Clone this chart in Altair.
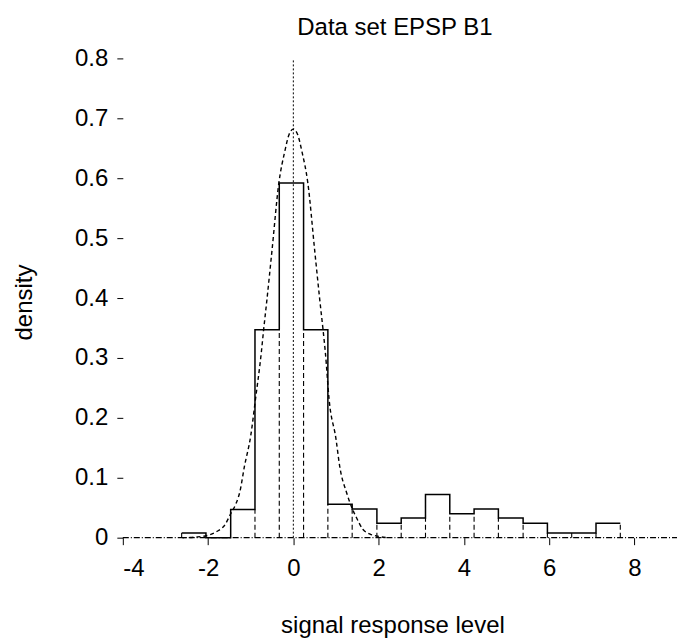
import altair as alt
import pandas as pd

# ---- data ----
bin_edges = [-2.62, -2.05, -1.47, -0.90, -0.33, 0.24, 0.81, 1.38, 1.96, 2.53,
             3.10, 3.67, 4.24, 4.81, 5.39, 5.96, 6.53, 7.10, 7.67]
bin_heights = [0.008, 0.0, 0.047, 0.347, 0.592, 0.347, 0.056, 0.048, 0.024,
               0.033, 0.072, 0.040, 0.048, 0.033, 0.024, 0.008, 0.008, 0.024]

curve_x = [-2.6, -2.3, -2.0, -1.8, -1.6, -1.47, -1.35, -1.25, -1.15, -1.0, -0.89,
           -0.75, -0.70, -0.62, -0.5, -0.34, -0.2, -0.1, 0.0, 0.1, 0.2, 0.34, 0.5,
           0.62, 0.70, 0.75, 0.84, 1.0, 1.09, 1.25, 1.35, 1.47, 1.63, 1.8, 1.94, 2.2]
curve_y = [0.0, 0.001, 0.004, 0.010, 0.022, 0.040, 0.056, 0.078, 0.118, 0.170, 0.230,
           0.310, 0.345, 0.397, 0.480, 0.592, 0.645, 0.673, 0.682, 0.673, 0.645, 0.592, 0.480,
           0.397, 0.345, 0.310, 0.230, 0.165, 0.118, 0.075, 0.054, 0.035, 0.014, 0.006, 0.003, 0.0]

x_ticks = [-4, -2, 0, 2, 4, 6, 8]
y_ticks = [0, 0.1, 0.2, 0.3, 0.4, 0.5, 0.6, 0.7, 0.8]
x_domain = [-4, 9]
y_domain = [0, 0.8]

FONT = "Liberation Sans"

# ---- tables ----
step_df = pd.DataFrame({
    "x": bin_edges,
    "y": bin_heights + [bin_heights[-1]],
})

div_rows = []
for i, e in enumerate(bin_edges):
    left = bin_heights[i - 1] if i > 0 else None
    right = bin_heights[i] if i < len(bin_heights) else None
    if left is None:
        top = right
    elif right is None:
        top = left
    else:
        top = min(left, right)
    div_rows.append({"x": e, "y": 0.0, "y2": top})
div_df = pd.DataFrame(div_rows)

curve_df = pd.DataFrame({"x": curve_x, "y": curve_y})
base_df = pd.DataFrame({"x": [x_domain[0]], "x2": [x_domain[1]], "y": [0.0]})
center_df = pd.DataFrame({"x": [0.0], "y": [0.0], "y2": [0.8]})

xscale = alt.Scale(domain=x_domain, nice=False, zero=False)
yscale = alt.Scale(domain=y_domain, nice=False, zero=False)

x_axis = alt.Axis(
    values=x_ticks, labelExpr="'' + datum.value", domain=False, grid=False,
    tickSize=7, tickColor="black", labelColor="black", labelFont=FONT, labelFontSize=24,
    labelPadding=12, title="signal response level", titleFont=FONT, titleFontSize=24,
    titleFontWeight="normal", titleColor="black", titleX=270, titleY=95,
    titleAlign="center", titleBaseline="alphabetic",
)
y_axis = alt.Axis(
    values=y_ticks, format="~g", domain=False, grid=False,
    tickSize=6, tickColor="black", labelColor="black", labelFont=FONT, labelFontSize=24,
    labelPadding=9, title="density", titleFont=FONT, titleFontSize=24,
    titleFontWeight="normal", titleColor="black", titleAngle=-90, titleX=-98,
    titleY=244, titleAlign="center", titleBaseline="middle",
)

base = alt.Chart(base_df).mark_rule(color="black", strokeWidth=1.2,
                                     strokeDash=[6, 2, 1, 2]).encode(
    x=alt.X("x:Q", scale=xscale, axis=x_axis),
    x2="x2:Q",
    y=alt.Y("y:Q", scale=yscale, axis=y_axis),
)

dividers = alt.Chart(div_df).mark_rule(color="black", strokeWidth=1.1,
                                       strokeDash=[5, 3]).encode(
    x=alt.X("x:Q", scale=xscale),
    y=alt.Y("y:Q", scale=yscale),
    y2="y2:Q",
)

steps = alt.Chart(step_df).mark_line(color="black", strokeWidth=1.5,
                                     interpolate="step-after").encode(
    x=alt.X("x:Q", scale=xscale),
    y=alt.Y("y:Q", scale=yscale),
    order="x:Q",
)

curve = alt.Chart(curve_df).mark_line(color="black", strokeWidth=1.4,
                                      strokeDash=[4, 3],
                                      interpolate="monotone").encode(
    x=alt.X("x:Q", scale=xscale),
    y=alt.Y("y:Q", scale=yscale),
    order="x:Q",
)

center = alt.Chart(center_df).mark_rule(color="black", strokeWidth=1,
                                        strokeDash=[2, 2]).encode(
    x=alt.X("x:Q", scale=xscale),
    y=alt.Y("y:Q", scale=yscale),
    y2="y2:Q",
)

chart = alt.layer(base, dividers, steps, curve, center).properties(
    width=555,
    height=480,
    title=alt.TitleParams("Data set EPSP B1", font=FONT, fontSize=24,
                          fontWeight="normal", color="black", anchor="middle",
                          frame="group", baseline="alphabetic", offset=23, dx=-5,
                          dy=36),
    autosize=alt.AutoSizeParams(type="none"),
    padding={"left": 115, "top": 50, "right": 0, "bottom": 102},
).configure(background="white").configure_view(stroke=None)

chart.save("out.html", embed_options={"renderer": "svg", "actions": False})
